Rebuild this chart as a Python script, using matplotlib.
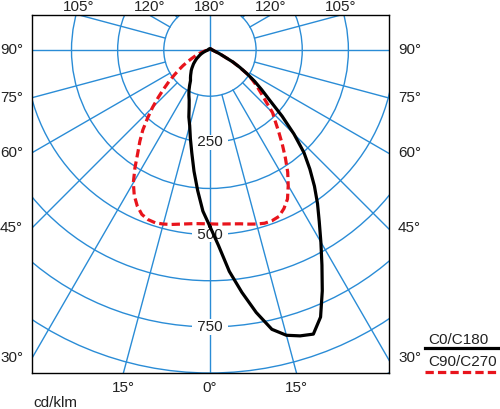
import numpy as np
import matplotlib.pyplot as plt
from matplotlib.patches import Circle
from matplotlib.lines import Line2D

plt.rcParams['font.family'] = ['Liberation Sans', 'DejaVu Sans']

# gamma angles (deg, 0 = straight down) and intensities in cd/klm
gamma = [0, 2.5, 5, 7.5, 10, 12.5, 15, 17.5, 20, 22.5, 25, 27.5, 30, 32.5, 35, 37.5,
         40, 42.5, 45, 47.5, 50, 52.5, 55, 57.5, 60, 62.5, 65, 67.5, 70, 72.5, 75,
         77.5, 80, 82.5, 85, 87.5, 90, 135, 180]
i_c0 = [478, 530, 602, 662, 722, 775, 800, 812, 819, 783, 720, 657, 601, 551, 508, 465,
        421, 377, 322, 265, 211, 177, 148, 119, 93, 70, 45, 33, 25, 19, 15,
        12, 11, 9, 8, 7, 7, 4, 4]
i_c180 = [478, 437, 382, 331, 283, 245, 212, 190, 165, 147, 135, 123, 110, 98, 92, 86,
          80, 75, 69, 63, 58, 52, 47, 42, 36, 32, 28, 24, 20, 17, 14,
          12, 10, 8, 7, 6, 6, 4, 4]
i_c90 = [471, 472, 473, 475, 478, 483, 488, 492, 492, 488, 474, 455, 424, 392, 356, 322,
         290, 262, 240, 205, 180, 160, 140, 118, 92, 70, 45, 33, 25, 19, 15,
         12, 11, 9, 8, 7, 7, 4, 4]
i_c270 = [471, 471, 472, 475, 479, 484, 488, 491, 489, 482, 466, 444, 415, 378, 341, 312,
          283, 250, 220, 190, 163, 140, 118, 100, 84, 68, 55, 45, 37, 29, 23,
          18, 14, 11, 9, 8, 7, 4, 4]

rings = [125, 250, 375, 500, 625, 750, 875, 1000]
ring_labels = [250, 500, 750]
spokes = [15, 30, 45, 60, 75, 105, 120, 135, 150, 165]
side_angles = [90, 75, 60, 45, 30]
top_angles = [105, 120, 180]
bottom_angles = [15, 0]
unit = 'cd/klm'
names = ['C0/C180', 'C90/C270']

grid_c = '#2a8cd6'
txt_c = '#222222'


def plane(right, left):
    g = np.radians(gamma)
    r = np.array(right, float)
    l = np.array(left, float)
    x = np.concatenate([r * np.sin(g), (-l * np.sin(g))[::-1]])
    y = np.concatenate([-r * np.cos(g), (-l * np.cos(g))[::-1]])
    return x, y


fig = plt.figure(figsize=(5, 4.09), dpi=100)
ax = fig.add_axes([32 / 500, 36 / 409, 357 / 500, 358 / 409])
x0, x1, y0, y1 = -482, 485, -875, 95
ax.set_xlim(x0, x1)
ax.set_ylim(y0, y1)
ax.set_xticks([])
ax.set_yticks([])
for s in ax.spines.values():
    s.set_color('black')
    s.set_linewidth(1.0)

# polar grid
for r in rings:
    ax.add_patch(Circle((0, 0), r, fill=False, ec=grid_c, lw=1.0, zorder=1))
ax.plot([0, 0], [y0, y1], color=grid_c, lw=1.0, zorder=1)
ax.plot([x0, x1], [0, 0], color=grid_c, lw=1.0, zorder=1)
for a in spokes:
    t = np.radians(a)
    for sgn in (1, -1):
        ax.plot([sgn * rings[0] * np.sin(t), sgn * 1400 * np.sin(t)],
                [-rings[0] * np.cos(t), -1400 * np.cos(t)],
                color=grid_c, lw=1.0, zorder=1)

for v in ring_labels:
    ax.text(0, -v, f' {v} ', ha='center', va='center', fontsize=11, color=txt_c,
            bbox=dict(boxstyle='square,pad=0.05', fc='white', ec='none'), zorder=2)

# intensity curves
xb, yb = plane(i_c0, i_c180)
ax.plot(xb, yb, color='black', lw=2.3, zorder=4, solid_joinstyle='round')
xr, yr = plane(i_c90, i_c270)
ax.plot(xr, yr, color='#e8141c', lw=2.3, dashes=(2.6, 1.3), zorder=3)

# angle labels round the frame
for a in side_angles:
    yy = x0 / np.tan(np.radians(a)) if a != 90 else 0
    for xe, dx, ha in ((x0, -6.5, 'right'), (x1, 6.5, 'left')):
        ax.annotate(f'{a}°', (xe, yy), xytext=(dx, 0), textcoords='offset points',
                    ha=ha, va='center', fontsize=11, color=txt_c, annotation_clip=False)
for a in top_angles:
    xx = y1 * np.tan(np.radians(a)) if a != 180 else 0
    for sgn in ((1, -1) if a != 180 else (1,)):
        ax.annotate(f'{a}°', (sgn * xx, y1), xytext=(0, 6), textcoords='offset points',
                    ha='center', va='center', fontsize=11, color=txt_c, annotation_clip=False)
for a in bottom_angles:
    xx = -y0 * np.tan(np.radians(a))
    for sgn in ((1, -1) if a != 0 else (1,)):
        ax.annotate(f'{a}°', (sgn * xx, y0), xytext=(0, -10.5), textcoords='offset points',
                    ha='center', va='center', fontsize=11, color=txt_c, annotation_clip=False)

fig.text(33 / 500, 1 - 403 / 409, unit, ha='left', va='center', fontsize=11, color=txt_c)

# legend
fig.text(428 / 500, 1 - 340 / 409, names[0], ha='left', va='center', fontsize=11, color=txt_c)
fig.add_artist(Line2D([425 / 500, 1.0], [1 - 348 / 409] * 2, color='black', lw=2.3))
fig.text(428 / 500, 1 - 362 / 409, names[1], ha='left', va='center', fontsize=11, color=txt_c)
fig.add_artist(Line2D([425 / 500, 1.0], [1 - 372 / 409] * 2, color='#e8141c', lw=2.3,
                      dashes=(2.6, 1.3)))

fig.savefig('out.png', dpi=100)
